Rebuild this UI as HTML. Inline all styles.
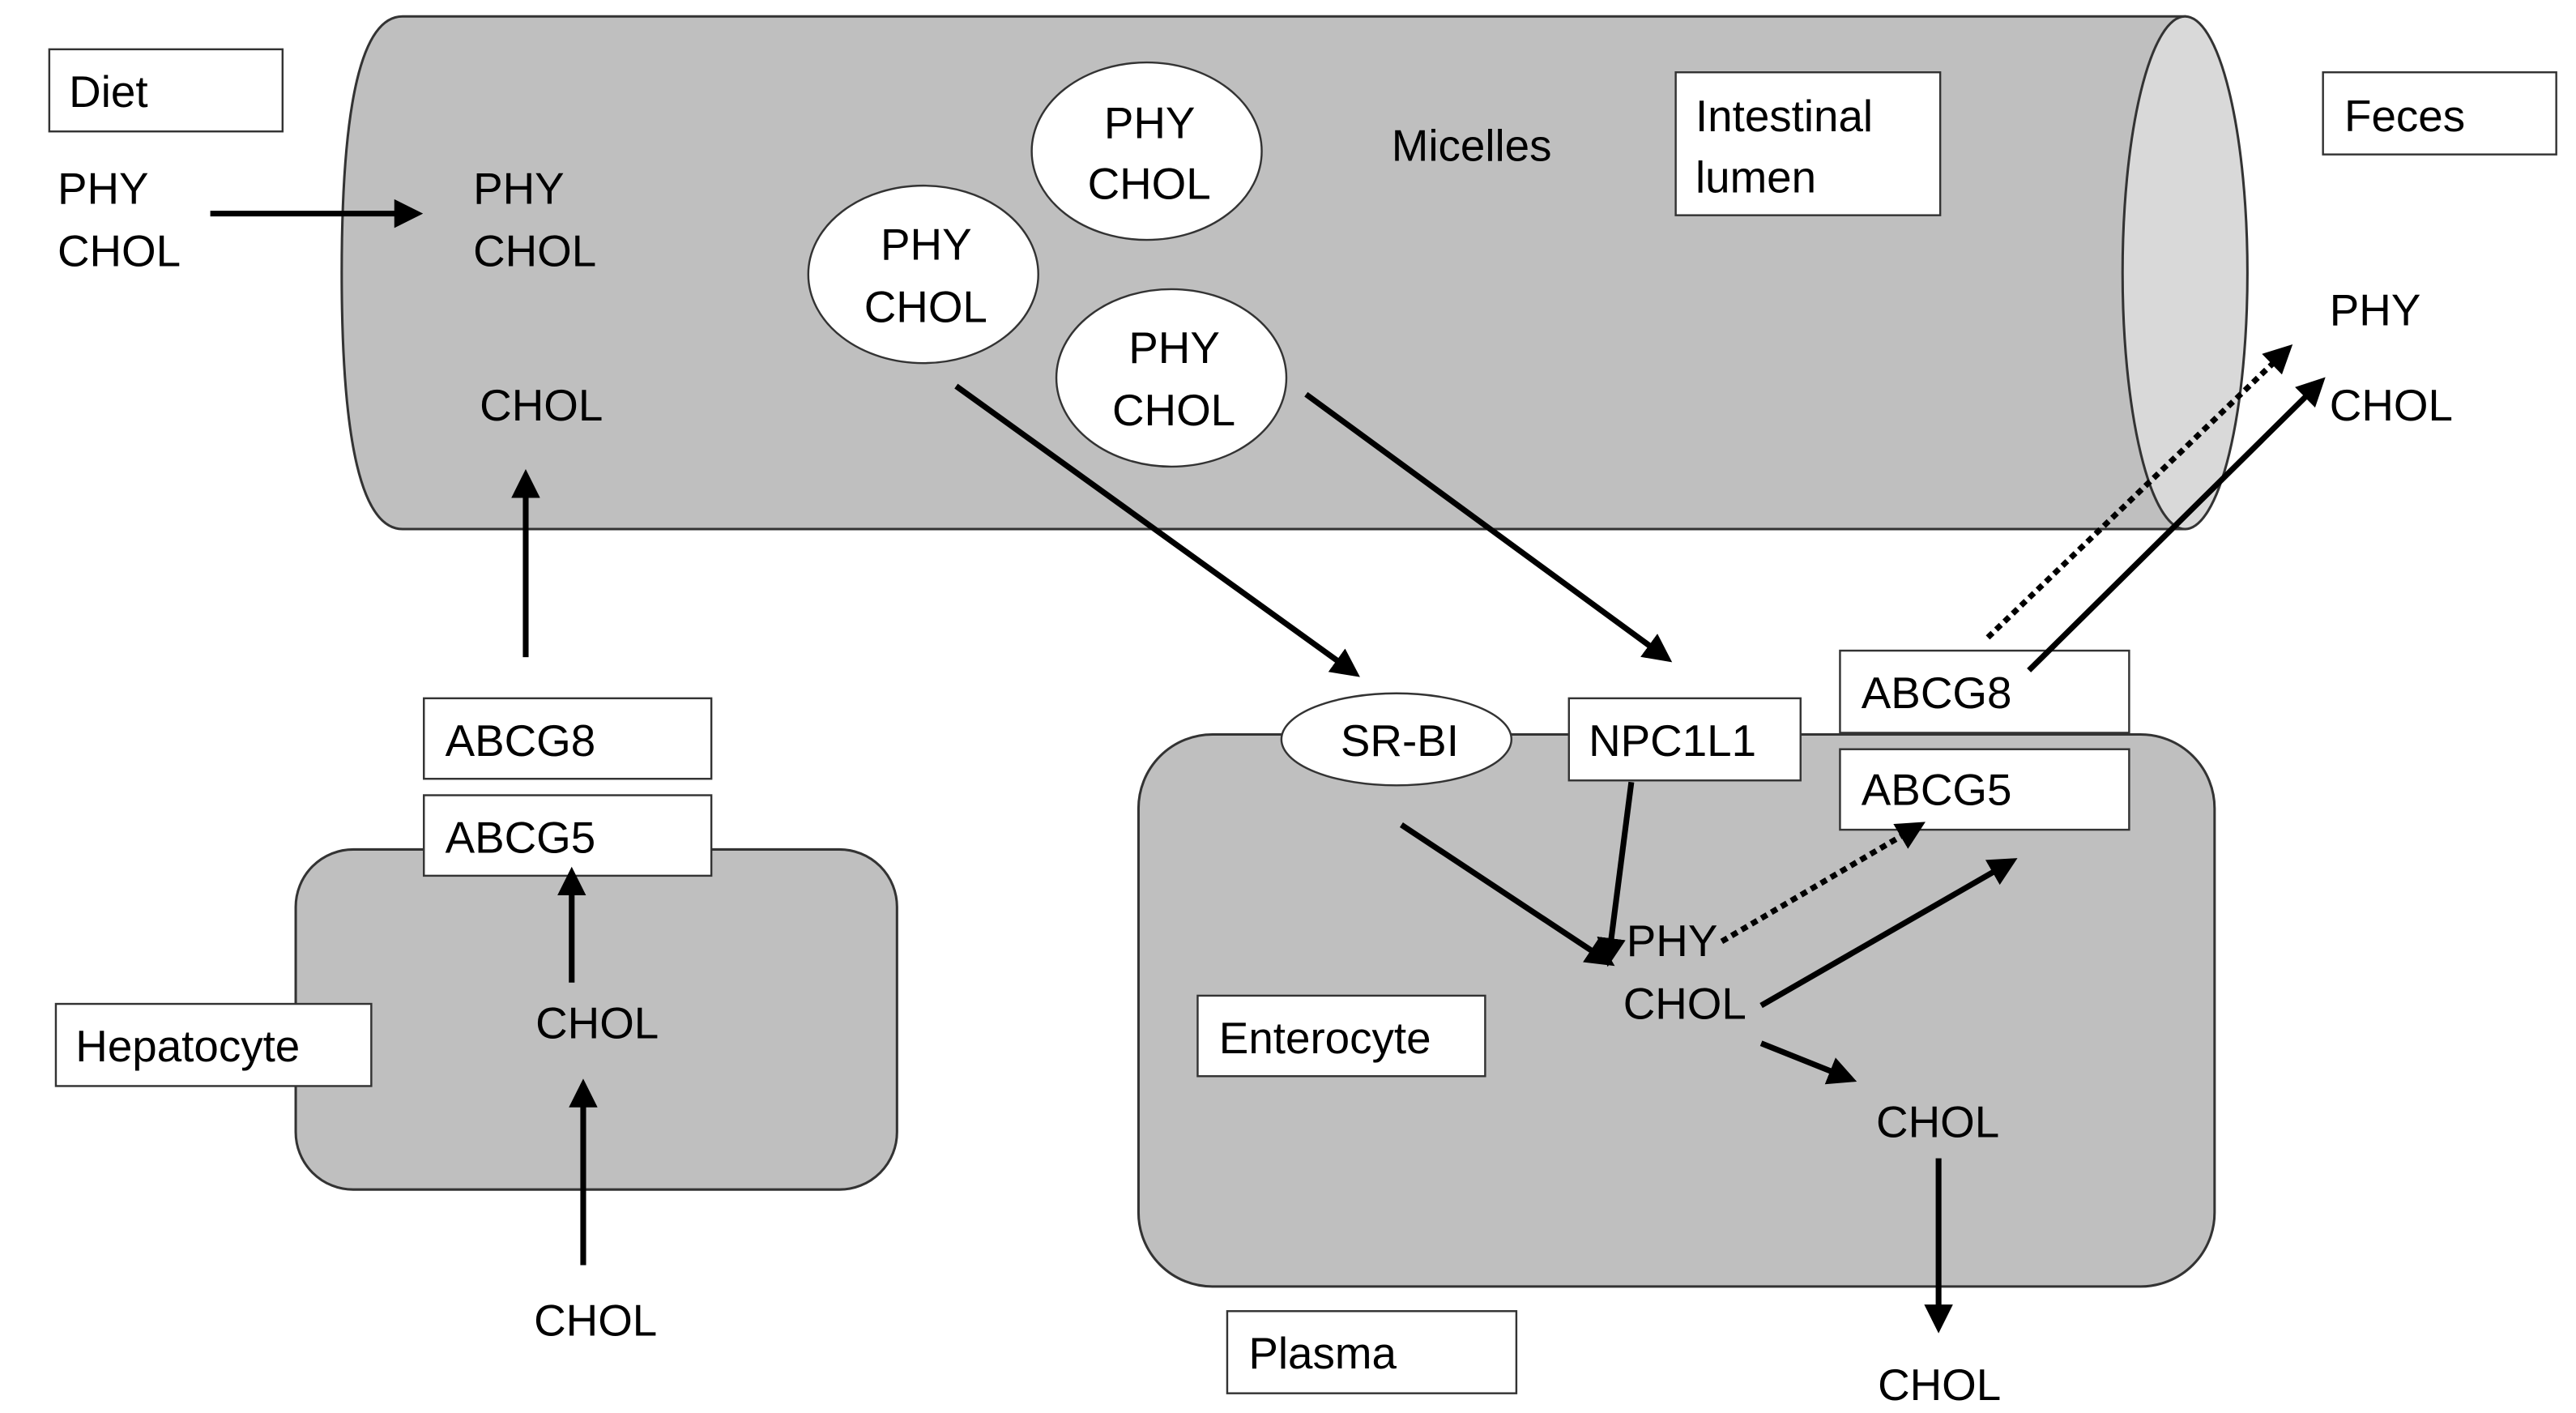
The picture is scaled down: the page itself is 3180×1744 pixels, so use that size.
<!DOCTYPE html>
<html><head><meta charset="utf-8"><style>
html,body{margin:0;padding:0;background:#fff;}
svg{display:block;}
text{font-family:"Liberation Sans",sans-serif;font-size:27px;fill:#000;}
</style></head><body>
<svg width="3180" height="1744" viewBox="0 0 1568 860" preserveAspectRatio="none" xmlns="http://www.w3.org/2000/svg">
<defs>
<marker id="a" markerWidth="5" markerHeight="5" refX="4" refY="2.5" orient="auto" markerUnits="strokeWidth"><path d="M0,0 L5,2.5 L0,5 z" fill="#000"/></marker>
</defs>
<path d="M245,10 L1330,10 L1330,322 L245,322 Q208,322 208,166 Q208,10 245,10 Z" fill="#bfbfbf" stroke="#333" stroke-width="1.5"/>
<ellipse cx="1330" cy="166" rx="38" ry="156" fill="#d9d9d9" stroke="#333" stroke-width="1.5"/>
<g fill="#fff" stroke="#333" stroke-width="1.2">
<rect x="30" y="30" width="142" height="50"/>
<rect x="1020" y="44" width="161" height="87"/>
<rect x="1414" y="44" width="142" height="50"/>
</g>
<rect x="180" y="517" width="366" height="207" rx="35" fill="#bfbfbf" stroke="#333" stroke-width="1.5"/>
<rect x="693" y="447" width="655" height="336" rx="45" fill="#bfbfbf" stroke="#333" stroke-width="1.5"/>
<g fill="#fff" stroke="#333" stroke-width="1.2">
<rect x="34" y="611" width="192" height="50"/>
<rect x="258" y="425" width="175" height="49"/>
<rect x="258" y="484" width="175" height="49"/>
<rect x="955" y="425" width="141" height="50"/>
<rect x="1120" y="396" width="176" height="50"/>
<rect x="1120" y="456" width="176" height="49"/>
<rect x="729" y="606" width="175" height="49"/>
<rect x="747" y="798" width="176" height="50"/>
<ellipse cx="850" cy="450" rx="70" ry="28"/>
<ellipse cx="698" cy="92" rx="70" ry="54"/>
<ellipse cx="562" cy="167" rx="70" ry="54"/>
<ellipse cx="713" cy="230" rx="70" ry="54"/>
</g>
<text x="42" y="65">Diet</text>
<text x="35" y="124">PHY</text><text x="35" y="162">CHOL</text>
<text x="288" y="124">PHY</text><text x="288" y="162">CHOL</text>
<text x="292" y="256">CHOL</text>
<text x="672" y="84">PHY</text><text x="662" y="121">CHOL</text>
<text x="536" y="158">PHY</text><text x="526" y="196">CHOL</text>
<text x="687" y="221">PHY</text><text x="677" y="259">CHOL</text>
<text x="847" y="98">Micelles</text>
<text x="1032" y="80">Intestinal</text><text x="1032" y="117">lumen</text>
<text x="1427" y="80">Feces</text>
<text x="1418" y="198">PHY</text><text x="1418" y="256">CHOL</text>
<text x="271" y="460">ABCG8</text>
<text x="271" y="519">ABCG5</text>
<text x="46" y="646">Hepatocyte</text>
<text x="326" y="632">CHOL</text>
<text x="325" y="813">CHOL</text>
<text x="816" y="460">SR-BI</text>
<text x="967" y="460">NPC1L1</text>
<text x="1133" y="431">ABCG8</text>
<text x="1133" y="490">ABCG5</text>
<text x="742" y="641">Enterocyte</text>
<text x="760" y="833">Plasma</text>
<text x="990" y="582">PHY</text><text x="988" y="620">CHOL</text>
<text x="1142" y="692">CHOL</text>
<text x="1143" y="852">CHOL</text>
<g stroke="#000" stroke-width="3.5" fill="none" marker-end="url(#a)">
<line x1="128" y1="130" x2="254" y2="130"/>
<line x1="320" y1="400" x2="320" y2="289"/>
<line x1="582" y1="235" x2="825" y2="410"/>
<line x1="795" y1="240" x2="1015" y2="401"/>
<line x1="1210" y1="388" x2="1393" y2="212" stroke-dasharray="4,3"/>
<line x1="1235" y1="408" x2="1413" y2="232"/>
<line x1="348" y1="598" x2="348" y2="531"/>
<line x1="355" y1="770" x2="355" y2="660"/>
<line x1="853" y1="502" x2="980" y2="586"/>
<line x1="993" y1="476" x2="979" y2="585"/>
<line x1="1048" y1="573" x2="1169" y2="502" stroke-dasharray="4,3"/>
<line x1="1072" y1="612" x2="1225" y2="524"/>
<line x1="1072" y1="635" x2="1127" y2="657"/>
<line x1="1180" y1="705" x2="1180" y2="808"/>
</g>
</svg>
</body></html>
